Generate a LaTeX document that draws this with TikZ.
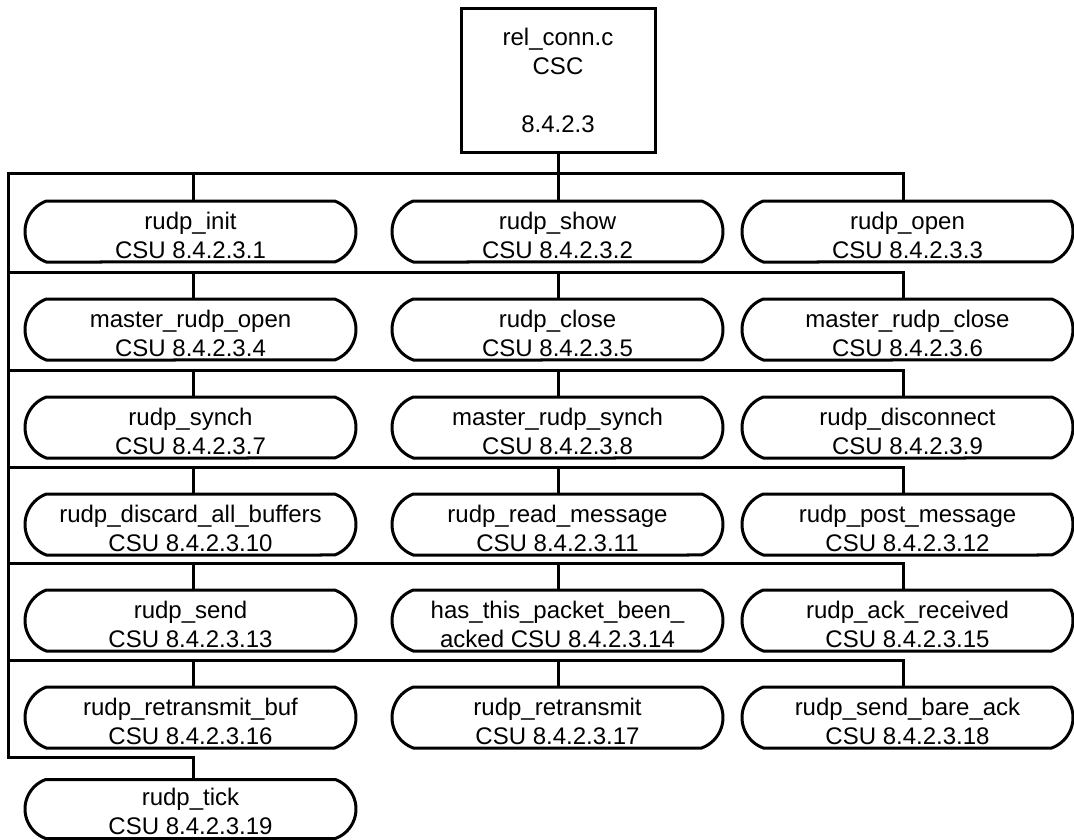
\documentclass[tikz,border=0pt]{standalone}
\usepackage{fontspec}
\setmainfont{Liberation Sans}
\usetikzlibrary{shapes.misc}
\begin{document}
\begin{tikzpicture}[x=1pt,y=-1pt,
  csu/.style={draw, line width=3pt, rounded rectangle, rounded rectangle arc length=140,
    minimum width=331pt, minimum height=61pt, inner sep=0pt},
  cscbox/.style={draw, line width=3pt, minimum width=194pt, minimum height=144pt, inner sep=0pt},
  lbl/.style={align=center, font=\fontsize{24}{29}\selectfont, inner sep=0pt},
  wire/.style={line width=3pt, line cap=rect, line join=miter}]
\useasboundingbox (0,0) rectangle (1074,840);

% top box
\node[cscbox] (csc) at (558,81) {};
\node[lbl] (csct) at ([yshift=1pt]csc.center) {rel\_conn.c\\CSC\\[29pt]8.4.2.3};

% bus coordinates
\coordinate (cA) at (193,0);
\coordinate (cB) at (558,0);
\coordinate (cC) at (903,0);
\coordinate (r0) at (8,174);
\coordinate (r1) at (8,272);
\coordinate (r2) at (8,370);
\coordinate (r3) at (8,467);
\coordinate (r4) at (8,563);
\coordinate (r5) at (8,660);
\coordinate (r6) at (8,757);

% nodes
\node[csu] (f1) at (190.5,231.5) {};
\node[csu] (f2) at (557.5,231.5) {};
\node[csu] (f3) at (907.5,231.5) {};
\node[csu] (f4) at (190.5,329.5) {};
\node[csu] (f5) at (557.5,329.5) {};
\node[csu] (f6) at (907.5,329.5) {};
\node[csu] (f7) at (190.5,427.5) {};
\node[csu] (f8) at (557.5,427.5) {};
\node[csu] (f9) at (907.5,427.5) {};
\node[csu] (f10) at (190.5,524.5) {};
\node[csu] (f11) at (557.5,524.5) {};
\node[csu] (f12) at (907.5,524.5) {};
\node[csu] (f13) at (190.5,620.5) {};
\node[csu] (f14) at (557.5,620.5) {};
\node[csu] (f15) at (907.5,620.5) {};
\node[csu] (f16) at (190.5,717.5) {};
\node[csu] (f17) at (557.5,717.5) {};
\node[csu] (f18) at (907.5,717.5) {};
\node[csu, minimum height=59pt] (f19) at (190.5,809) {};

% labels
\node[lbl] (t1) at ([yshift=-4pt]f1.center) {rudp\_init\\CSU 8.4.2.3.1};
\node[lbl] (t2) at ([yshift=-4pt]f2.center) {rudp\_show\\CSU 8.4.2.3.2};
\node[lbl] (t3) at ([yshift=-4pt]f3.center) {rudp\_open\\CSU 8.4.2.3.3};
\node[lbl] (t4) at ([yshift=-4pt]f4.center) {master\_rudp\_open\\CSU 8.4.2.3.4};
\node[lbl] (t5) at ([yshift=-4pt]f5.center) {rudp\_close\\CSU 8.4.2.3.5};
\node[lbl] (t6) at ([yshift=-4pt]f6.center) {master\_rudp\_close\\CSU 8.4.2.3.6};
\node[lbl] (t7) at ([yshift=-4pt]f7.center) {rudp\_synch\\CSU 8.4.2.3.7};
\node[lbl] (t8) at ([yshift=-4pt]f8.center) {master\_rudp\_synch\\CSU 8.4.2.3.8};
\node[lbl] (t9) at ([yshift=-4pt]f9.center) {rudp\_disconnect\\CSU 8.4.2.3.9};
\node[lbl] (t10) at ([yshift=-4pt]f10.center) {rudp\_discard\_all\_buffers\\CSU 8.4.2.3.10};
\node[lbl] (t11) at ([yshift=-4pt]f11.center) {rudp\_read\_message\\CSU 8.4.2.3.11};
\node[lbl] (t12) at ([yshift=-4pt]f12.center) {rudp\_post\_message\\CSU 8.4.2.3.12};
\node[lbl] (t13) at ([yshift=-4pt]f13.center) {rudp\_send\\CSU 8.4.2.3.13};
\node[lbl] (t14) at ([yshift=-4pt]f14.center) {has\_this\_packet\_been\_\\acked CSU 8.4.2.3.14};
\node[lbl] (t15) at ([yshift=-4pt]f15.center) {rudp\_ack\_received\\CSU 8.4.2.3.15};
\node[lbl] (t16) at ([yshift=-4pt]f16.center) {rudp\_retransmit\_buf\\CSU 8.4.2.3.16};
\node[lbl] (t17) at ([yshift=-4pt]f17.center) {rudp\_retransmit\\CSU 8.4.2.3.17};
\node[lbl] (t18) at ([yshift=-4pt]f18.center) {rudp\_send\_bare\_ack\\CSU 8.4.2.3.18};
\node[lbl] (t19) at ([yshift=-2pt]f19.center) {rudp\_tick\\CSU 8.4.2.3.19};

% connectors
\draw[wire] (csc.south) -- (csc.south |- r0);
\draw[wire] (cC |- r0) -- (r0) -- (r6) -- (cA |- r6) -- (cA |- f19.north);
\draw[wire] (r1) -- (cC |- r1);
\draw[wire] (r2) -- (cC |- r2);
\draw[wire] (r3) -- (cC |- r3);
\draw[wire] (r4) -- (cC |- r4);
\draw[wire] (r5) -- (cC |- r5);

\draw[wire] (cA |- r0) -- (cA |- f1.north);
\draw[wire] (cB |- r0) -- (cB |- f2.north);
\draw[wire] (cC |- r0) -- (cC |- f3.north);
\draw[wire] (cA |- r1) -- (cA |- f4.north);
\draw[wire] (cB |- r1) -- (cB |- f5.north);
\draw[wire] (cC |- r1) -- (cC |- f6.north);
\draw[wire] (cA |- r2) -- (cA |- f7.north);
\draw[wire] (cB |- r2) -- (cB |- f8.north);
\draw[wire] (cC |- r2) -- (cC |- f9.north);
\draw[wire] (cA |- r3) -- (cA |- f10.north);
\draw[wire] (cB |- r3) -- (cB |- f11.north);
\draw[wire] (cC |- r3) -- (cC |- f12.north);
\draw[wire] (cA |- r4) -- (cA |- f13.north);
\draw[wire] (cB |- r4) -- (cB |- f14.north);
\draw[wire] (cC |- r4) -- (cC |- f15.north);
\draw[wire] (cA |- r5) -- (cA |- f16.north);
\draw[wire] (cB |- r5) -- (cB |- f17.north);
\draw[wire] (cC |- r5) -- (cC |- f18.north);
\end{tikzpicture}
\end{document}
